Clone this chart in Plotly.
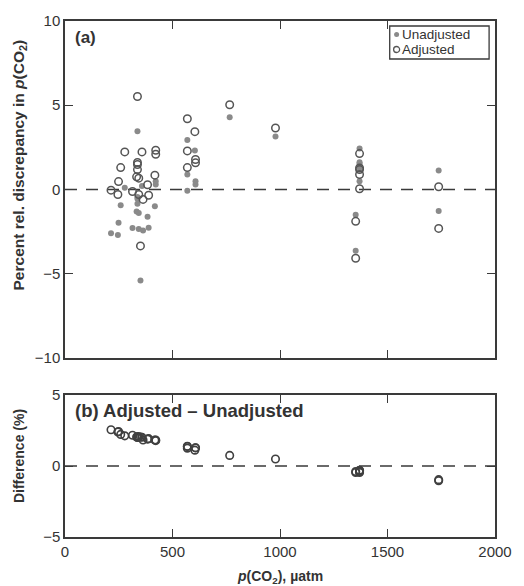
import plotly.graph_objects as go

# ---- data ----
# pCO2 (µatm) of each sample
pco2 = [214, 246, 249, 259, 278, 314, 337, 343, 358, 363, 384, 389, 418, 422, 422,
        351, 337, 337, 337, 333, 343,
        569, 604, 569, 569, 607, 607,
        766, 979,
        1370, 1370, 1370, 1370, 1370, 1352, 1352,
        1738, 1738]
# percent relative discrepancy, unadjusted
unadjusted = [-2.60, -2.70, -1.97, -0.93, 0.10, -2.29, 3.45, -2.35, 0.20, -2.43, -1.62, -2.27, -0.99, 0.49, 0.30,
              -5.40, -0.45, -0.55, -0.85, -1.30, -1.40,
              2.94, 2.31, 0.89, -0.08, 0.49, 0.30,
              4.28, 3.15,
              2.43, 1.62, 1.52, 1.29, 0.49, -1.50, -3.63,
              1.12, -1.28]
# percent relative discrepancy, adjusted
adjusted = [-0.04, -0.30, 0.47, 1.30, 2.23, -0.12, 5.52, -0.30, 2.23, -0.59, 0.28, -0.34, 0.85, 2.33, 2.09,
            -3.35, 1.60, 1.48, 1.18, 0.75, 0.67,
            4.20, 3.43, 2.29, 1.30, 1.78, 1.58,
            5.03, 3.65,
            2.13, 1.28, 1.18, 0.89, 0.04, -1.89, -4.08,
            0.16, -2.31]

difference = [a - u for a, u in zip(adjusted, unadjusted)]

x_ticks = [0, 500, 1000, 1500, 2000]
y_ticks_a = [-10, -5, 0, 5, 10]
y_ticks_b = [-5, 0, 5]
legend_labels = ["Unadjusted", "Adjusted"]

FONT = "Liberation Sans, Arial, sans-serif"
AX = "#3a3a3a"
TXT = "#333333"
FILL_C = "#8a8a8a"
OPEN_C = "#555555"

fig = go.Figure()

# panel (a)
fig.add_trace(go.Scatter(x=[0, 2000], y=[0, 0], mode="lines",
                         line=dict(color=AX, width=1.5, dash="12px,9px"),
                         showlegend=False, hoverinfo="skip", xaxis="x", yaxis="y"))
fig.add_trace(go.Scatter(x=pco2, y=unadjusted, mode="markers", name=legend_labels[0],
                         marker=dict(symbol="circle", size=6, color=FILL_C, line=dict(width=0)),
                         showlegend=False, xaxis="x", yaxis="y"))
fig.add_trace(go.Scatter(x=pco2, y=adjusted, mode="markers", name=legend_labels[1],
                         marker=dict(symbol="circle-open", size=7.5, color=OPEN_C,
                                     line=dict(width=1.5, color=OPEN_C)),
                         showlegend=False, xaxis="x", yaxis="y"))

# panel (b)
fig.add_trace(go.Scatter(x=[0, 2000], y=[0, 0], mode="lines",
                         line=dict(color=AX, width=1.5, dash="12px,9px"),
                         showlegend=False, hoverinfo="skip", xaxis="x2", yaxis="y2"))
fig.add_trace(go.Scatter(x=pco2, y=difference, mode="markers", showlegend=False,
                         marker=dict(symbol="circle-open", size=7.5, color="#404040",
                                     line=dict(width=1.6, color="#404040")),
                         xaxis="x2", yaxis="y2"))

axis_common = dict(showgrid=False, zeroline=False, showline=True, linecolor=AX, linewidth=1.5,
                   mirror="ticks", ticks="inside", ticklen=8, tickwidth=1.3, tickcolor=AX,
                   tickfont=dict(family=FONT, size=15, color=TXT))

fig.update_layout(
    width=524, height=586,
    margin=dict(l=65, r=22, t=21, b=49),
    paper_bgcolor="white", plot_bgcolor="white",
    font=dict(family=FONT, color=TXT),
    xaxis=dict(domain=[0, 1], range=[0, 2000], tickvals=x_ticks, showticklabels=False,
               anchor="y", **axis_common),
    yaxis=dict(domain=[0.347, 1], range=[-10, 10], tickvals=y_ticks_a, anchor="x", **axis_common),
    xaxis2=dict(domain=[0, 1], range=[0, 2000], tickvals=x_ticks, anchor="y2", **axis_common),
    yaxis2=dict(domain=[0, 0.275], range=[-5, 5], tickvals=y_ticks_b, anchor="x2", **axis_common),
    showlegend=False,
)

# ---- compact legend box (top right of panel a) ----
def px2paper_x(px):
    return (px - 65) / 437.0

def px2paper_y(py):
    return (537 - py) / 516.0

fig.add_shape(type="rect", xref="paper", yref="paper",
              x0=px2paper_x(395), x1=px2paper_x(496), y0=px2paper_y(59), y1=px2paper_y(26),
              line=dict(color=AX, width=1.3), fillcolor="white")
fig.add_shape(type="circle", xref="paper", yref="paper", xsizemode="pixel", ysizemode="pixel",
              xanchor=px2paper_x(402), yanchor=px2paper_y(34.5), x0=-2.5, x1=2.5, y0=-2.5, y1=2.5,
              line=dict(width=0), fillcolor=FILL_C)
fig.add_shape(type="circle", xref="paper", yref="paper", xsizemode="pixel", ysizemode="pixel",
              xanchor=px2paper_x(402), yanchor=px2paper_y(49.5), x0=-3, x1=3, y0=-3, y1=3,
              line=dict(width=1.3, color=OPEN_C), fillcolor="white")
fig.add_annotation(text=legend_labels[0], xref="paper", yref="paper",
                   x=px2paper_x(406), y=px2paper_y(34), xanchor="left", yanchor="middle",
                   borderpad=0, showarrow=False, font=dict(family=FONT, size=13.5, color=TXT))
fig.add_annotation(text=legend_labels[1], xref="paper", yref="paper",
                   x=px2paper_x(406), y=px2paper_y(50), xanchor="left", yanchor="middle",
                   borderpad=0, showarrow=False, font=dict(family=FONT, size=13.5, color=TXT))

fig.add_annotation(text="<b>(a)</b>", xref="x", yref="y", x=0, y=10, xanchor="left", yanchor="top",
                   xshift=8, yshift=-5, showarrow=False, font=dict(family=FONT, size=17, color=TXT))
fig.add_annotation(text="<b>(b) Adjusted – Unadjusted</b>", xref="x2", yref="y2", x=0, y=5,
                   xanchor="left", yanchor="top", xshift=8, yshift=-3, showarrow=False,
                   font=dict(family=FONT, size=18.5, color=TXT))
fig.add_annotation(text="<b>Percent rel. discrepancy in <i>p</i>(CO<sub>2</sub>)</b>",
                   xref="paper", yref="y", x=0, y=0, xshift=-46, yshift=24, textangle=-90,
                   xanchor="center", yanchor="middle", showarrow=False,
                   font=dict(family=FONT, size=15.5, color=TXT))
fig.add_annotation(text="<b>Difference (%)</b>",
                   xref="paper", yref="y2", x=0, y=0, xshift=-46, yshift=10, textangle=-90,
                   xanchor="center", yanchor="middle", showarrow=False,
                   font=dict(family=FONT, size=14, color=TXT))
fig.add_annotation(text="<b><i>p</i>(CO<sub>2</sub>), µatm</b>",
                   xref="x2", yref="paper", x=1000, y=0, yshift=-40,
                   xanchor="center", yanchor="middle", showarrow=False,
                   font=dict(family=FONT, size=14, color=TXT))

fig.write_html("out.html")
